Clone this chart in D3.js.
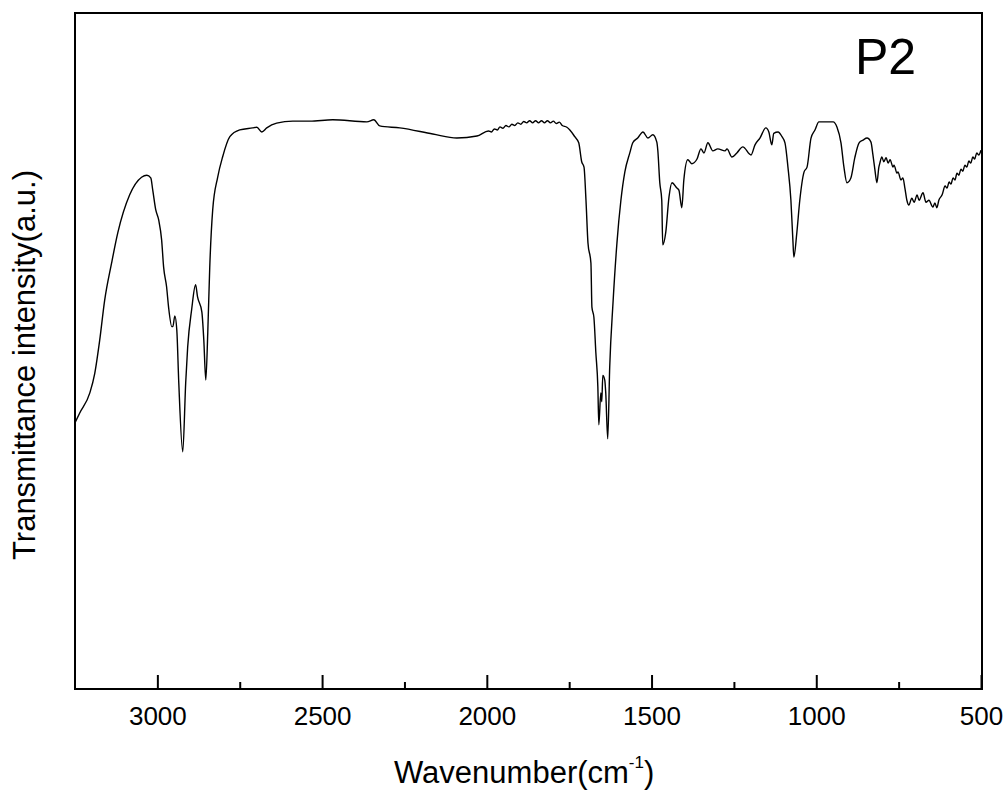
<!DOCTYPE html>
<html>
<head>
<meta charset="utf-8">
<script src="https://cdn.jsdelivr.net/npm/d3@7"></script>
<style>
  body { margin: 0; background: #fff; }
  text { font-family: "Liberation Sans", Arial, sans-serif; fill: #000; }
</style>
</head>
<body>
<div id="graph"></div>
<script>
'use strict';

// wavenumber (cm-1), left to right
const wavenumber = [
  3251, 3236, 3205, 3190, 3175, 3160, 3139, 3120, 3084, 3048, 3032, 3020, 3014, 3005, 2996, 2987,
  2981, 2972, 2966, 2956, 2953, 2947, 2941, 2935, 2923, 2914, 2908, 2896, 2884, 2878, 2865, 2859,
  2853, 2847, 2841, 2832, 2817, 2802, 2780, 2750, 2711, 2698, 2683, 2668, 2638, 2589, 2537, 2468,
  2364, 2343, 2325, 2264, 2164, 2091, 2030,
  1995, 1986, 1977, 1968, 1960, 1951, 1942, 1933, 1924, 1915, 1906, 1897, 1888, 1879, 1870, 1861,
  1852, 1843, 1834, 1825, 1816, 1807, 1798, 1789, 1780, 1771,
  1757, 1748, 1733, 1721, 1712, 1705, 1699, 1693, 1684, 1681, 1675, 1669, 1663, 1660, 1654, 1651,
  1648, 1642, 1639, 1633, 1627, 1617, 1605, 1593, 1581, 1566, 1557, 1542, 1526, 1511, 1496, 1484,
  1481, 1475, 1469, 1466, 1457, 1447, 1438, 1423, 1417, 1408, 1402, 1390, 1378, 1362, 1350, 1341,
  1329, 1314, 1299, 1277, 1271, 1256, 1241, 1223, 1198, 1186, 1171, 1153, 1144, 1135, 1129, 1116,
  1104, 1095, 1086, 1077, 1071, 1068, 1059, 1050, 1037, 1028, 1016, 1004, 992, 968, 949, 937,
  925, 916, 907, 895, 883, 870, 858, 846, 834, 828, 822, 816,
  810, 807, 801, 795, 788, 782, 776, 767, 764, 755, 752, 743, 737, 731, 725, 719,
  710, 703, 694, 688, 676, 667, 658, 646, 640, 634, 628, 618,
  609, 603, 597, 591, 585, 579, 573, 567, 561, 555, 549, 543, 537, 531, 525, 519, 513, 507, 500
];

// transmittance (arbitrary units, 0 = bottom of frame, 100 = top)
const transmittance = [
  39.3, 40.8, 43.8, 46.7, 51.6, 57.5, 63.0, 67.5, 73.1, 75.7, 76.0, 75.6, 73.8, 70.9, 69.4, 66.4,
  62.4, 59.5, 56.5, 53.6, 53.6, 55.2, 53.1, 45.3, 35.1, 45.3, 50.6, 56.1, 59.8, 58.0, 55.8, 51.6,
  45.7, 52.7, 62.4, 70.9, 75.7, 78.7, 81.7, 82.7, 83.0, 83.1, 82.4, 83.0, 83.7, 84.0, 84.0, 84.2,
  83.9, 84.2, 83.3, 83.0, 82.1, 81.5, 81.8,
  82.55, 82.4, 82.85, 82.7, 83.15, 82.95, 83.35, 83.15, 83.55, 83.35, 83.75, 83.55, 83.95, 83.75, 84.05, 83.75,
  84.05, 83.75, 84.05, 83.75, 84.05, 83.75, 84.0, 83.65, 83.85, 83.35,
  83.1, 82.7, 81.7, 80.8, 78.0, 77.2, 72.3, 66.0, 63.0, 56.5, 55.0, 49.7, 44.7, 39.1, 43.8, 42.5,
  46.4, 45.7, 43.8, 37.0, 47.6, 57.1, 66.0, 72.3, 76.5, 79.3, 80.8, 81.5, 82.4, 81.5, 82.0, 80.9,
  79.7, 74.9, 72.3, 65.7, 67.5, 72.8, 74.9, 74.1, 73.8, 71.2, 75.3, 78.3, 77.7, 78.4, 79.9, 79.3,
  80.8, 79.6, 79.9, 79.6, 79.9, 78.7, 79.3, 80.2, 79.0, 80.5, 81.5, 83.0, 82.4, 80.5, 82.2, 82.4,
  81.7, 80.8, 77.2, 72.3, 66.4, 63.9, 67.5, 72.3, 76.5, 77.2, 81.5, 82.7, 83.9, 83.9, 83.9, 83.1,
  80.8, 77.2, 74.9, 75.6, 78.6, 80.8, 81.2, 81.5, 80.9, 79.0, 76.8, 74.9,
  77.2, 77.8, 78.7, 78.0, 78.6, 77.8, 78.3, 77.2, 77.5, 76.3, 76.5, 75.3, 75.6, 74.1, 72.3, 71.6,
  72.6, 72.0, 73.1, 72.3, 73.4, 72.0, 72.3, 71.3, 71.9, 71.2, 72.3, 73.1,
  74.4, 74.1, 75.0, 74.7, 75.6, 75.3, 76.3, 76.0, 76.9, 76.6, 77.5, 77.2, 78.1, 77.8, 78.7, 78.4, 79.3, 79.0, 79.7
];

const majorTicks = [3000, 2500, 2000, 1500, 1000, 500];
const minorTicks = [2750, 2250, 1750, 1250, 750];
const xDomain = [3250, 500];
const yDomain = [0, 100];

(function() {

  let svgContainer = "";
  const plot = { left: 75, right: 982, top: 13, bottom: 689 };

  window.onload = function() {
    svgContainer = d3.select('#graph')
      .append('svg')
      .attr('width', 1007)
      .attr('height', 791);

    let data = wavenumber.map((w, i) => ({ w: w, t: transmittance[i] }));

    let map = drawAxes();
    plotData(data, map);
    makeLabels();
  }

  // frame, ticks and tick labels
  function drawAxes() {
    let xScale = d3.scaleLinear()
      .domain(xDomain)
      .range([plot.left, plot.right - 1]);

    let yScale = d3.scaleLinear()
      .domain(yDomain)
      .range([plot.bottom, plot.top]);

    // minor ticks, pointing inward
    let minorAxis = d3.axisBottom(xScale)
      .tickValues(minorTicks)
      .tickSizeInner(-7)
      .tickSizeOuter(0)
      .tickFormat('');
    let gMinor = svgContainer.append('g')
      .attr('transform', 'translate(0,' + plot.bottom + ')')
      .call(minorAxis);
    gMinor.select('.domain').remove();
    gMinor.selectAll('line').attr('stroke', '#000').attr('stroke-width', 2);

    // major ticks with labels
    let xAxis = d3.axisBottom(xScale)
      .tickValues(majorTicks)
      .tickSizeInner(-14)
      .tickSizeOuter(0)
      .tickPadding(18)
      .tickFormat(d3.format('d'));
    let gMajor = svgContainer.append('g')
      .attr('transform', 'translate(0,' + plot.bottom + ')')
      .call(xAxis);
    gMajor.select('.domain').remove();
    gMajor.selectAll('line').attr('stroke', '#000').attr('stroke-width', 2);
    gMajor.selectAll('text')
      .style('font-family', '"Liberation Sans", Arial, sans-serif')
      .style('font-size', '26px')
      .attr('fill', '#000');

    // box around the plot
    svgContainer.append('rect')
      .attr('x', plot.left)
      .attr('y', plot.top)
      .attr('width', plot.right - plot.left)
      .attr('height', plot.bottom - plot.top)
      .attr('fill', 'none')
      .attr('stroke', '#000')
      .attr('stroke-width', 2);

    return { x: xScale, y: yScale };
  }

  // the spectrum itself
  function plotData(data, map) {
    let line = d3.line()
      .curve(d3.curveMonotoneX)
      .x(d => map.x(d.w))
      .y(d => map.y(d.t));

    svgContainer.append('path')
      .datum(data)
      .attr('d', line)
      .attr('fill', 'none')
      .attr('stroke', '#000')
      .attr('stroke-width', 1.4)
      .attr('stroke-linejoin', 'round');
  }

  // axis titles and sample name
  function makeLabels() {
    svgContainer.append('text')
      .attr('x', 855)
      .attr('y', 74)
      .style('font-size', '50px')
      .text('P2');

    svgContainer.append('text')
      .attr('transform', 'translate(35, 365)rotate(-90)')
      .attr('text-anchor', 'middle')
      .style('font-size', '31px')
      .text('Transmittance intensity(a.u.)');

    let xl = svgContainer.append('text')
      .attr('x', 394)
      .attr('y', 783)
      .style('font-size', '31px');
    xl.append('tspan').text('Wavenumber(cm');
    xl.append('tspan')
      .attr('dy', -15)
      .style('font-size', '17px')
      .text('-1');
    xl.append('tspan')
      .attr('dy', 15)
      .style('font-size', '31px')
      .text(')');
  }

})();
</script>
</body>
</html>
